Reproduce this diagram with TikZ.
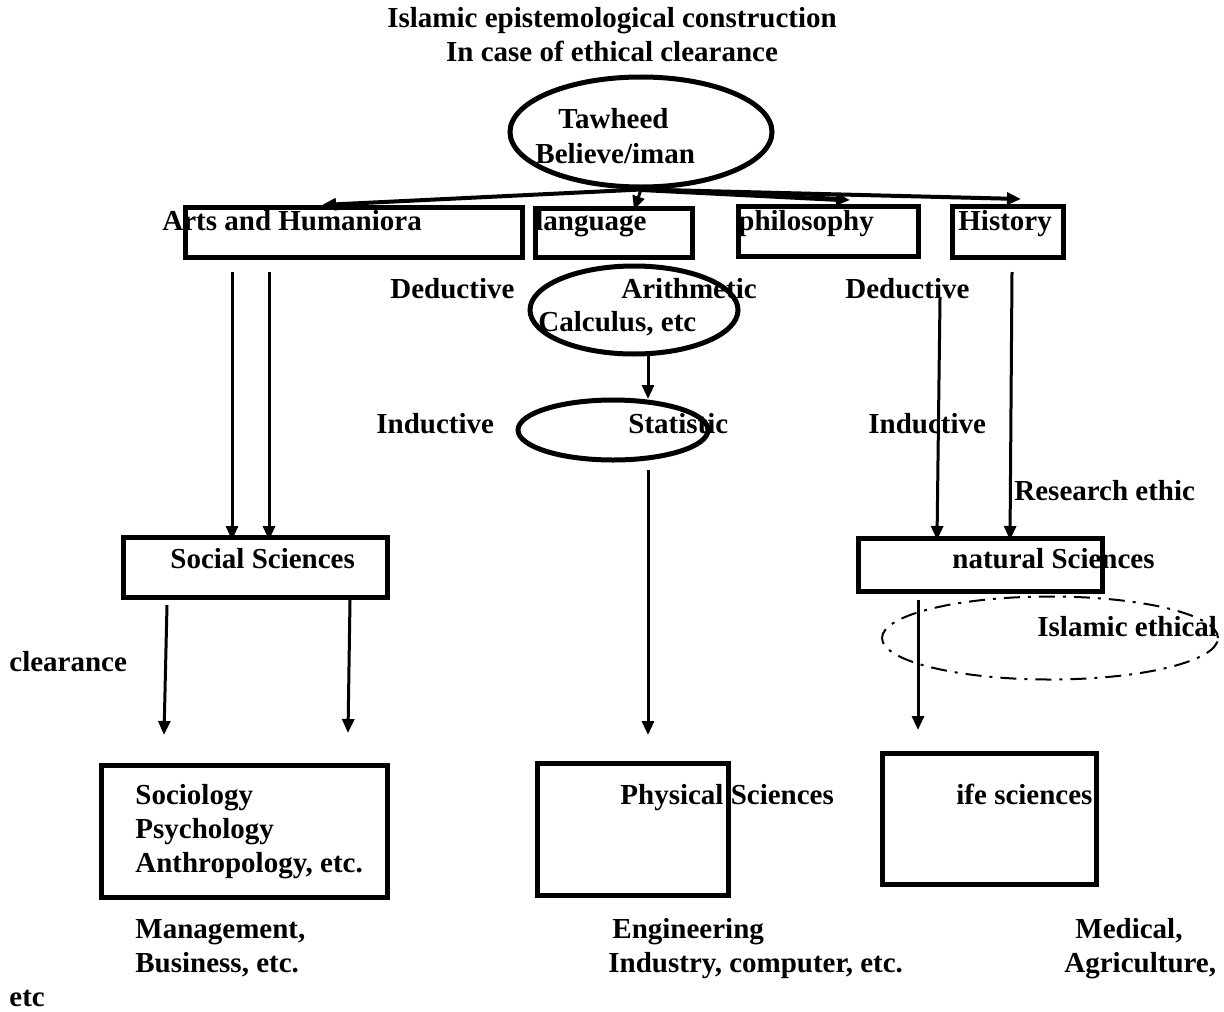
\documentclass[tikz,border=0pt]{standalone}
\usepackage{fontspec}
\setmainfont{Liberation Serif}
\usetikzlibrary{arrows.meta,shapes.geometric}

\begin{document}
\begin{tikzpicture}[x=0.5pt,y=-0.5pt,
    lbl/.style={anchor=base west,inner sep=0pt,font=\fontsize{14.5}{17}\selectfont\bfseries},
    box/.style={draw,line width=2.5pt,inner sep=0pt},
    oval/.style={draw,ellipse,line width=2.5pt,inner sep=0pt},
    arr/.style={line width=1.5pt,-{Triangle[length=7pt,width=6pt]}}]
    \useasboundingbox (0,0) rectangle (1224,1011);
    \node[lbl,anchor=base] (title) at (612,28) {Islamic epistemological construction};
    \node[lbl,anchor=base] (subtitle) at (612,62) {In case of ethical clearance};
    \node[oval,minimum width=131pt,minimum height=55pt] (tawheed) at (641,132) {};
    \node[box,minimum width=168.5pt,minimum height=25pt] (arts) at (353.5,232) {};
    \node[box,minimum width=78.5pt,minimum height=24.5pt] (lang) at (613.5,232.5) {};
    \node[box,minimum width=90pt,minimum height=25pt] (philo) at (828,231) {};
    \node[box,minimum width=55.5pt,minimum height=25.5pt] (hist) at (1007.5,231.5) {};
    \node[oval,minimum width=104pt,minimum height=44pt] (arith) at (634,310) {};
    \node[oval,minimum width=95pt,minimum height=30pt] (stat) at (613,430) {};
    \node[box,minimum width=132pt,minimum height=30pt] (social) at (255,567) {};
    \node[box,minimum width=122pt,minimum height=26.5pt] (natural) at (980,564.5) {};
    \node[draw,ellipse,line width=1pt,dash pattern=on 8pt off 4pt on 1.5pt off 4pt,
        minimum width=168pt,minimum height=41.5pt] (ethic) at (1050,638) {};
    \node[box,minimum width=143pt,minimum height=66pt] (socio) at (244,831) {};
    \node[box,minimum width=95.5pt,minimum height=66pt] (phys) at (632.5,829) {};
    \node[box,minimum width=107pt,minimum height=65.5pt] (life) at (989,818.5) {};

    \node[lbl] (tw) at (558,128) {Tawheed};
    \node[lbl] (bi) at (535,163) {Believe/iman};
    \node[lbl] (artsl) at (162,230) {Arts and Humaniora};
    \node[lbl] (langl) at (535,230) {language};
    \node[lbl] (philol) at (738,230) {philosophy};
    \node[lbl] (histl) at (958,230) {History};
    \node[lbl] (ded1) at (390,298) {Deductive};
    \node[lbl] (arithl) at (621,298) {Arithmetic};
    \node[lbl] (calc) at (538,331) {Calculus, etc};
    \node[lbl] (ded2) at (845,298) {Deductive};
    \node[lbl] (ind1) at (376,433) {Inductive};
    \node[lbl] (statl) at (628,433) {Statistic};
    \node[lbl] (ind2) at (868,433) {Inductive};
    \node[lbl] (resl) at (1014,500) {Research ethic};
    \node[lbl] (sociall) at (170,568) {Social Sciences};
    \node[lbl] (naturall) at (952,568) {natural Sciences};
    \node[lbl] (ethicl) at (1037,636) {Islamic ethical};
    \node[lbl] (clear) at (9,671) {clearance};
    \node[lbl] (soc1) at (135,804) {Sociology};
    \node[lbl] (soc2) at (135,838) {Psychology};
    \node[lbl] (soc3) at (135,872) {Anthropology, etc.};
    \node[lbl] (physl) at (620,804) {Physical Sciences};
    \node[lbl] (lifel) at (956,804) {ife sciences};
    \node[lbl] (man1) at (135,938) {Management,};
    \node[lbl] (man2) at (135,972) {Business, etc.};
    \node[lbl] (eng1) at (612,938) {Engineering};
    \node[lbl] (eng2) at (608,972) {Industry, computer, etc.};
    \node[lbl] (med1) at (1075,938) {Medical,};
    \node[lbl] (med2) at (1064,972) {Agriculture,};
    \node[lbl] (etc) at (9,1006) {etc};

    \coordinate (tA) at (322,205);
    \coordinate (tL) at (634,210);
    \coordinate (tP) at (850,200);
    \coordinate (tH) at (1021,199);
    \draw[arr,line width=2pt] (tawheed.south) -- (tA);
    \draw[arr] (tawheed.south) -- (tL);
    \draw[arr,line width=2.5pt] (tawheed.south) -- (tP);
    \draw[arr,line width=2pt] (tawheed.south) -- (tH);

    \coordinate (a1) at (232,272); \coordinate (s1) at (232,540);
    \coordinate (a2) at (269,272); \coordinate (s2) at (269,540);
    \draw[arr] (a1) -- (s1);
    \draw[arr] (a2) -- (s2);
    \coordinate (m1) at (648,355); \coordinate (m2) at (648,399);
    \coordinate (m3) at (648,470); \coordinate (m4) at (648,735);
    \draw[arr] (m1) -- (m2);
    \draw[arr] (m3) -- (m4);
    \coordinate (h1) at (940,298); \coordinate (n1) at (937,540);
    \coordinate (h2) at (1012,272); \coordinate (n2) at (1010,540);
    \draw[arr] (h1) -- (n1);
    \draw[arr] (h2) -- (n2);
    \coordinate (b1) at (167,605); \coordinate (c1) at (164,735);
    \coordinate (b2) at (350,600); \coordinate (c2) at (348,733);
    \draw[arr] (b1) -- (c1);
    \draw[arr] (b2) -- (c2);
    \coordinate (d1) at (918,600); \coordinate (e1) at (918,730);
    \draw[arr] (d1) -- (e1);
\end{tikzpicture}
\end{document}
